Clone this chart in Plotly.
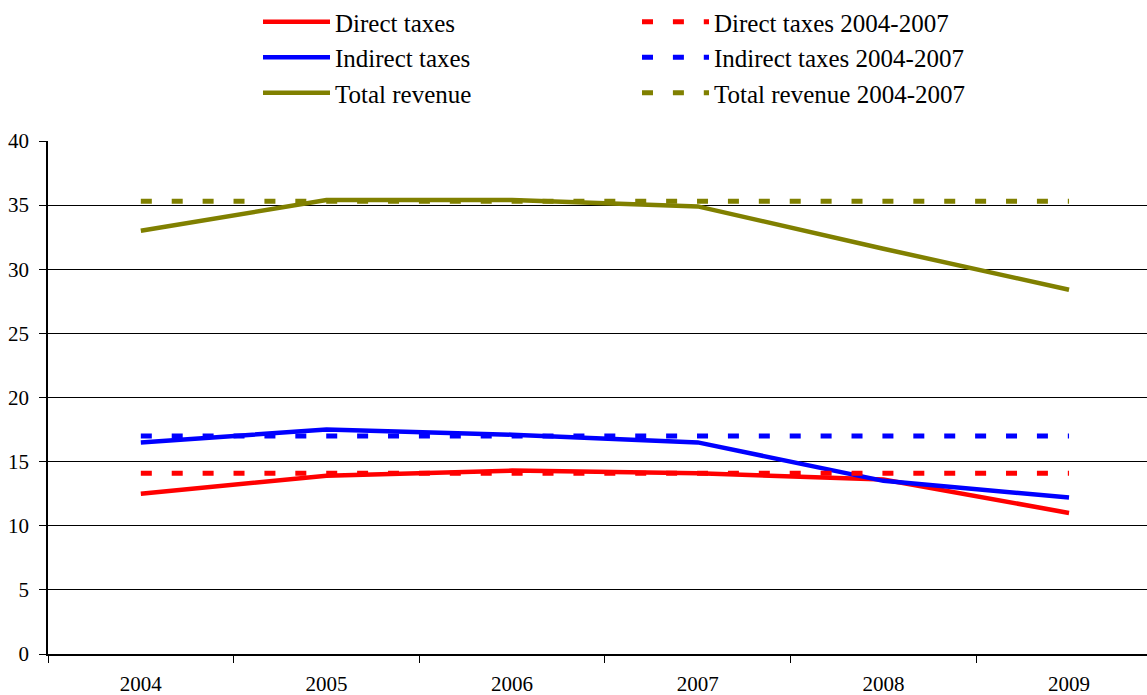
import plotly.graph_objects as go

years = ["2004", "2005", "2006", "2007", "2008", "2009"]
direct_taxes = [12.5, 13.9, 14.3, 14.1, 13.6, 11.0]
indirect_taxes = [16.5, 17.5, 17.1, 16.5, 13.5, 12.2]
total_revenue = [33.0, 35.4, 35.4, 34.9, 31.6, 28.4]

# 2004-2007 reference levels, drawn flat across all years
direct_avg = 14.1
indirect_avg = 17.0
total_avg = 35.3

RED = "#ff0000"
BLUE = "#0000ff"
OLIVE = "#808000"
FONT = "Liberation Serif"
DASH = "11px,19.9px"

W, H = 1147, 695
ML, MR, MT, MB = 48, 0, 141, 41
PW, PH = W - ML - MR, H - MT - MB

fig = go.Figure()

solid = [
    ("Direct taxes", direct_taxes, RED),
    ("Indirect taxes", indirect_taxes, BLUE),
    ("Total revenue", total_revenue, OLIVE),
]
for name, vals, col in solid:
    fig.add_trace(go.Scatter(
        x=years, y=vals, name=name, mode="lines",
        line=dict(color=col, width=4.5),
        legend="legend", legendgroup=name,
    ))

dashed = [
    ("Direct taxes 2004-2007", direct_avg, RED),
    ("Indirect taxes 2004-2007", indirect_avg, BLUE),
    ("Total revenue 2004-2007", total_avg, OLIVE),
]
for name, val, col in dashed:
    fig.add_trace(go.Scatter(
        x=years, y=[val] * len(years), name=name, mode="lines",
        line=dict(color=col, width=5, dash=DASH),
        legend="legend2", legendgroup=name,
    ))

legend_common = dict(
    font=dict(family=FONT, size=25, color="#000"),
    itemwidth=67, tracegroupgap=5,
    bgcolor="rgba(0,0,0,0)", orientation="v",
    xanchor="left", yanchor="top",
    traceorder="normal",
)

fig.update_layout(
    width=W, height=H,
    margin=dict(l=ML, r=MR, t=MT, b=MB, autoexpand=False),
    paper_bgcolor="white", plot_bgcolor="white",
    font=dict(family=FONT, size=21, color="#000"),
    showlegend=True,
    legend=dict(x=(258 - ML) / PW, y=(H - MB + 1) / PH, **legend_common),
    legend2=dict(x=(637 - ML) / PW, y=(H - MB + 1) / PH, **legend_common),
    xaxis=dict(
        type="category", range=[-0.5, 5.42],
        tickson="boundaries", ticks="outside", ticklen=7, tickwidth=1,
        tickcolor="#000", showline=True, linecolor="#000", linewidth=2,
        showgrid=False, zeroline=False, ticklabelstandoff=10,
        tickangle=0, automargin=False,
        tickfont=dict(family=FONT, size=21, color="#000"),
        fixedrange=True,
    ),
    yaxis=dict(
        range=[0, 40], dtick=5, ticks="outside", ticklen=7, tickwidth=1,
        tickcolor="#000", showline=True, linecolor="#000", linewidth=1.5,
        showgrid=True, gridcolor="#000", gridwidth=1, zeroline=False,
        automargin=False, ticklabelstandoff=6,
        tickfont=dict(family=FONT, size=21, color="#000"),
        fixedrange=True,
    ),
)

fig.write_html("out.html")
